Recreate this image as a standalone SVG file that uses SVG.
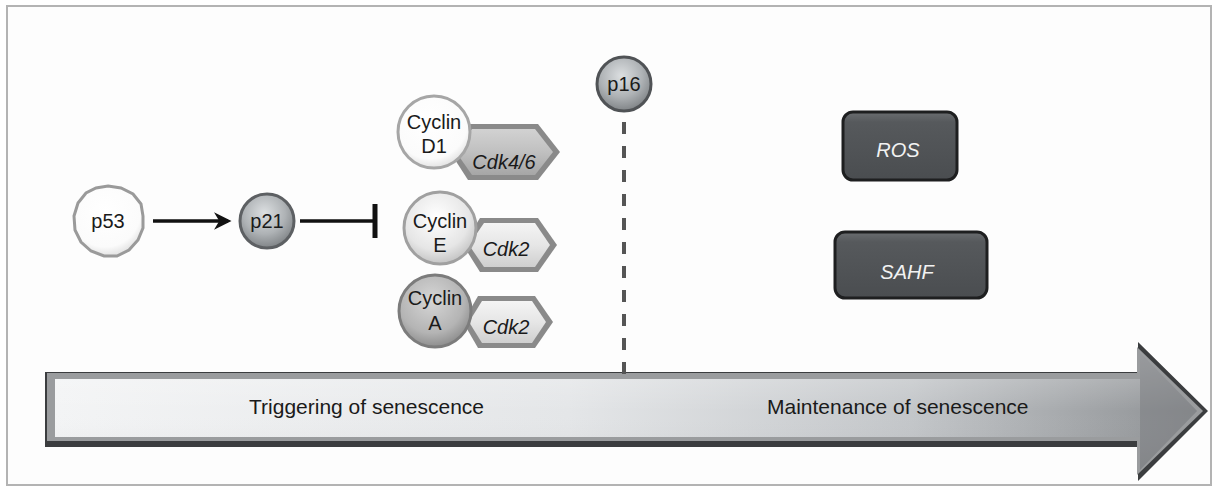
<svg xmlns="http://www.w3.org/2000/svg" width="1213" height="488" viewBox="0 0 1213 488">
  <style>
    .lbl { font-family: "Liberation Sans", Arial, sans-serif; font-size: 20px; fill: #1a1a1a; text-anchor: middle; }
    .ital { font-style: italic; }
    .box-lbl { font-family: "Liberation Sans", Arial, sans-serif; font-size: 20px; font-style: italic; fill: #f2f2f2; text-anchor: middle; }
    .phase { font-family: "Liberation Sans", Arial, sans-serif; font-size: 21px; fill: #1a1a1a; }
    .edge { stroke: #111; stroke-width: 3.5; fill: none; }
  </style>
  <defs>
    <radialGradient id="sphereGrey" cx="45%" cy="35%" r="65%">
      <stop offset="0" stop-color="#dcdfe1"/>
      <stop offset="0.6" stop-color="#aeb2b5"/>
      <stop offset="1" stop-color="#808487"/>
    </radialGradient>
    <radialGradient id="sphereLight" cx="45%" cy="35%" r="65%">
      <stop offset="0" stop-color="#ffffff"/>
      <stop offset="0.7" stop-color="#e6e6e6"/>
      <stop offset="1" stop-color="#c4c4c4"/>
    </radialGradient>
    <radialGradient id="sphereWhite" cx="45%" cy="35%" r="65%">
      <stop offset="0" stop-color="#ffffff"/>
      <stop offset="0.8" stop-color="#fbfbfb"/>
      <stop offset="1" stop-color="#e3e3e3"/>
    </radialGradient>
    <radialGradient id="sphereMid" cx="45%" cy="35%" r="65%">
      <stop offset="0" stop-color="#d6d6d6"/>
      <stop offset="0.7" stop-color="#b4b4b4"/>
      <stop offset="1" stop-color="#8e8e8e"/>
    </radialGradient>
    <linearGradient id="hexDark" x1="0" y1="0" x2="0" y2="1">
      <stop offset="0" stop-color="#d2d2d2"/>
      <stop offset="0.5" stop-color="#c0c0c0"/>
      <stop offset="1" stop-color="#a6a6a6"/>
    </linearGradient>
    <linearGradient id="hexLight" x1="0" y1="0" x2="0" y2="1">
      <stop offset="0" stop-color="#f4f4f4"/>
      <stop offset="0.5" stop-color="#e6e6e6"/>
      <stop offset="1" stop-color="#cfcfcf"/>
    </linearGradient>
    <linearGradient id="boxFill" x1="0" y1="0" x2="0" y2="1">
      <stop offset="0" stop-color="#6a6d70"/>
      <stop offset="0.15" stop-color="#56595c"/>
      <stop offset="1" stop-color="#4a4d50"/>
    </linearGradient>
    <linearGradient id="timeFill" x1="0" y1="0" x2="1" y2="0">
      <stop offset="0" stop-color="#f3f4f5"/>
      <stop offset="0.45" stop-color="#e4e6e8"/>
      <stop offset="0.75" stop-color="#c3c6c9"/>
      <stop offset="1" stop-color="#8e9194"/>
    </linearGradient>
    <linearGradient id="timeShade" x1="0" y1="0" x2="0" y2="1">
      <stop offset="0" stop-color="#ffffff" stop-opacity="0.35"/>
      <stop offset="0.5" stop-color="#ffffff" stop-opacity="0"/>
      <stop offset="1" stop-color="#000000" stop-opacity="0.08"/>
    </linearGradient>
    <marker id="arrowHead" viewBox="0 0 10 10" refX="8" refY="5" markerWidth="5" markerHeight="5" orient="auto" markerUnits="strokeWidth">
      <path d="M0,0 L10,5 L0,10 L3,5 Z" fill="#111"/>
    </marker>
  </defs>

  <!-- outer frame -->
  <rect x="7" y="6" width="1204" height="479" fill="#fdfdfd" stroke="#b3b3b3" stroke-width="2"/>

  <!-- time axis arrow -->
  <g id="timeline">
    <polygon points="45,372 1138,372 1138,342 1208,411 1138,481 1138,447 45,447" fill="#3b3d3f"/>
    <polygon points="47,373 1137,373 1137,347 1203,411 1137,475 1137,441 47,441" fill="#9a9c9e"/>
    <polygon points="55,379 1140,379 1140,352 1197,411 1140,470 1140,437 55,437" fill="url(#timeFill)"/>
    <polygon points="55,379 1140,379 1140,352 1197,411 1140,470 1140,437 55,437" fill="url(#timeShade)"/>
    <polygon points="1140,352 1197,411 1140,470" fill="#7b7e81" opacity="0.55"/>
    <text class="phase" x="249" y="414">Triggering of senescence</text>
    <text class="phase" x="767" y="414">Maintenance of senescence</text>
  </g>

  <!-- connectors -->
  <g id="connectors">
    <line class="edge" x1="153" y1="221" x2="228" y2="221" marker-end="url(#arrowHead)"/>
    <line class="edge" x1="300" y1="221" x2="375" y2="221"/>
    <line x1="375" y1="204" x2="375" y2="238" stroke="#111" stroke-width="5"/>
    <line x1="624" y1="122" x2="624" y2="376" stroke="#555" stroke-width="4" stroke-dasharray="12 12"/>
  </g>

  <g id="p53">
    <polygon points="108,186 121,188 133,194 141,204 143,216 143,228 138,240 129,250 117,256 104,256 91,251 81,242 75,230 74,216 78,203 86,193 96,188" fill="url(#sphereWhite)" stroke="#9a9a9a" stroke-width="3"/>
    <text class="lbl" x="108" y="228">p53</text>
  </g>

  <g id="p21">
    <circle cx="267" cy="221" r="27" fill="url(#sphereGrey)" stroke="#5d6063" stroke-width="3"/>
    <text class="lbl" x="267" y="228">p21</text>
  </g>

  <g id="cyclinD1-cdk46">
    <polygon points="450,152 468,124 538,124 560,152 538,180 468,180" fill="#8a8a8a"/>
    <polygon points="456,152 472,129 535,129 553,152 535,175 472,175" fill="url(#hexDark)"/>
    <circle cx="434" cy="132" r="36" fill="url(#sphereWhite)" stroke="#a6a6a6" stroke-width="3"/>
    <text class="lbl" x="434" y="129">Cyclin</text>
    <text class="lbl" x="434" y="153">D1</text>
    <text class="lbl ital" x="504" y="169">Cdk4/6</text>
  </g>

  <g id="cyclinE-cdk2">
    <polygon points="463,245 480,218 538,218 557,245 538,272 480,272" fill="#8a8a8a"/>
    <polygon points="469,245 484,223 535,223 550,245 535,267 484,267" fill="url(#hexLight)"/>
    <circle cx="440" cy="228" r="36" fill="url(#sphereLight)" stroke="#a0a0a0" stroke-width="3"/>
    <text class="lbl" x="440" y="228">Cyclin</text>
    <text class="lbl" x="440" y="252">E</text>
    <text class="lbl ital" x="506" y="256">Cdk2</text>
  </g>

  <g id="cyclinA-cdk2">
    <polygon points="463,322 478,296 535,296 553,322 535,348 478,348" fill="#8a8a8a"/>
    <polygon points="469,322 482,301 532,301 546,322 532,343 482,343" fill="url(#hexLight)"/>
    <circle cx="435" cy="311" r="36" fill="url(#sphereMid)" stroke="#7c7c7c" stroke-width="3"/>
    <text class="lbl" x="435" y="305">Cyclin</text>
    <text class="lbl" x="435" y="330">A</text>
    <text class="lbl ital" x="506" y="334">Cdk2</text>
  </g>

  <g id="p16">
    <circle cx="624" cy="84" r="27" fill="url(#sphereGrey)" stroke="#505356" stroke-width="3"/>
    <text class="lbl" x="624" y="91">p16</text>
  </g>

  <g id="ROS">
    <rect x="843" y="112" width="114" height="68" rx="10" fill="url(#boxFill)" stroke="#1e1f20" stroke-width="3"/>
    <text class="box-lbl" x="898" y="157">ROS</text>
  </g>

  <g id="SAHF">
    <rect x="835" y="232" width="152" height="66" rx="10" fill="url(#boxFill)" stroke="#1e1f20" stroke-width="3"/>
    <text class="box-lbl" x="907" y="279">SAHF</text>
  </g>
</svg>
